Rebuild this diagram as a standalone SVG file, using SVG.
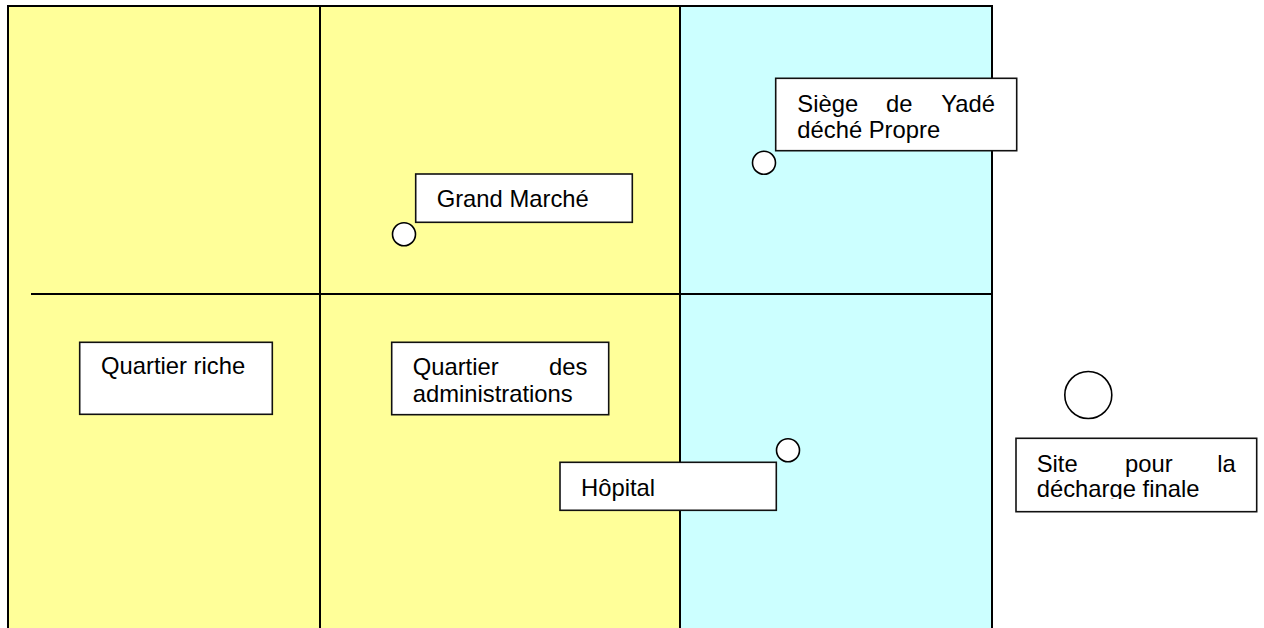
<svg xmlns="http://www.w3.org/2000/svg" width="1264" height="628" viewBox="0 0 1264 628">
<style>
.zone{stroke:#000;stroke-width:2}
.div{stroke:#000;stroke-width:2;fill:none}
.box{fill:#fff;stroke:#111;stroke-width:1.6}
.pt{fill:#fff;stroke:#000;stroke-width:1.6}
.t{font-family:"Liberation Sans",Arial,sans-serif;font-size:23.8px;fill:#000}
</style>
<defs>
<clipPath id="clipSite"><rect x="1016" y="438" width="241" height="61"/></clipPath>
</defs>
<rect width="1264" height="628" fill="#fff"/>
<g id="zones">
<rect class="zone" x="8" y="6" width="672" height="640" fill="#FFFF99"/>
<rect class="zone" x="680" y="6" width="312" height="640" fill="#CCFFFF"/>
<line class="div" x1="320" y1="6" x2="320" y2="640"/>
<line class="div" x1="31" y1="294" x2="992" y2="294"/>
</g>
<g id="connectors"></g>
<g id="grand-marche">
<circle class="pt" cx="404" cy="234.3" r="11.5"/>
<rect class="box" x="415.7" y="174" width="216.6" height="48.3"/>
<text class="t" x="436.7" y="207.3">Grand Marché</text>
</g>
<g id="siege">
<rect class="box" x="775.7" y="78.3" width="241" height="72.4"/>
<circle class="pt" cx="764" cy="162.7" r="11.5"/>
<text class="t" y="111.7"><tspan x="797.3">Siège</tspan><tspan x="886">de</tspan><tspan x="995" text-anchor="end">Yadé</tspan></text>
<text class="t" x="797.3" y="138.3">déché Propre</text>
</g>
<g id="quartier-riche">
<rect class="box" x="79.7" y="342.3" width="192.6" height="72"/>
<text class="t" x="101" y="374.3">Quartier riche</text>
</g>
<g id="quartier-administrations">
<rect class="box" x="391.7" y="342.3" width="217" height="72.4"/>
<text class="t" y="375"><tspan x="412.7">Quartier</tspan><tspan x="587.3" text-anchor="end">des</tspan></text>
<text class="t" x="412.7" y="402.3">administrations</text>
</g>
<g id="hopital">
<circle class="pt" cx="788" cy="450.3" r="11.5"/>
<rect class="box" x="560" y="462.3" width="216.3" height="48"/>
<text class="t" x="581" y="496">Hôpital</text>
</g>
<g id="site-decharge">
<circle class="pt" cx="1088.3" cy="395" r="23.5"/>
<rect class="box" x="1016" y="438.3" width="240.7" height="73.4"/>
<g clip-path="url(#clipSite)">
<text class="t" y="471.7"><tspan x="1036.7">Site</tspan><tspan x="1125">pour</tspan><tspan x="1235.7" text-anchor="end">la</tspan></text>
<text class="t" x="1036.7" y="496.7">décharge finale</text>
</g>
</g>
</svg>
